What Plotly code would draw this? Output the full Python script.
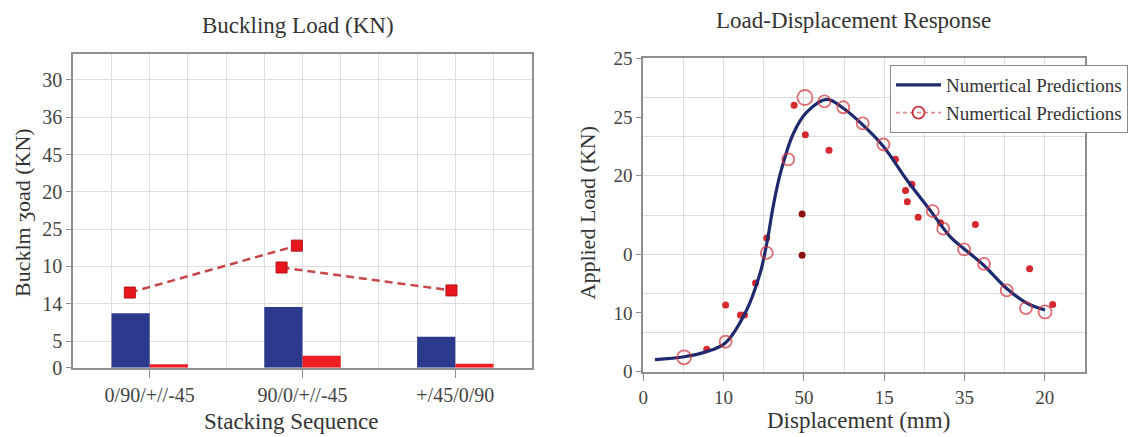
import plotly.graph_objects as go

# ---------------- Left panel: buckling load per stacking sequence ----------------
sequences = ["0/90/+//-45", "90/0/+//-45", "+/45/0/90"]
bar_blue = [10.2, 11.4, 5.8]
bar_red = [0.65, 2.25, 0.75]

# dashed trend with square markers (two separate dashed runs)
trend_x = [-0.13, 0.963, None, 0.863, 1.975]
trend_y = [14.1, 22.9, None, 18.8, 14.5]

left_tick_vals = [0, 5, 12, 19, 26, 33, 40, 47, 54]
left_tick_text = ["0", "5", "14", "10", "25", "20", "45", "36", "30"]

# ---------------- Right panel: load-displacement response ----------------
curve_x = [0.58, 2.03, 3.07, 4.07, 5.07, 5.81, 6.15, 6.48, 6.82, 7.47, 8.14, 9.14,
           9.96, 10.88, 11.96, 13.12, 14.28, 15.28, 15.94, 16.94, 18.10, 19.10, 20.01]
curve_y = [1.24, 1.53, 2.0, 2.9, 5.96, 10.0, 13.1, 17.0, 20.2, 24.3, 26.5, 27.8,
           26.9, 25.3, 23.0, 19.6, 16.5, 13.8, 12.6, 10.9, 8.5, 7.0, 6.3]

circle_x = [2.03, 4.10, 6.15, 7.22, 8.05, 9.02, 9.96, 10.93, 11.96, 14.42, 14.94,
            15.98, 16.97, 18.10, 19.06, 20.01]
circle_y = [1.47, 3.06, 12.14, 21.67, 28.0, 27.6, 27.0, 25.35, 23.2, 16.4, 14.6,
            12.5, 11.0, 8.3, 6.5, 6.1]

dot_x = [3.16, 4.10, 4.84, 5.04, 5.59, 6.15, 7.51, 8.07, 9.25, 7.91, 7.91, 12.56,
         13.38, 13.06, 13.15, 13.69, 14.80, 16.54, 19.24, 20.39]
dot_y = [2.29, 6.81, 5.79, 5.79, 9.05, 13.64, 27.2, 24.2, 22.6, 16.1, 11.9, 21.7,
         19.15, 18.5, 17.35, 15.76, 15.2, 15.04, 10.5, 6.85]

right_x_tick_vals = [0, 4, 8, 12, 16, 20]
right_x_tick_text = ["0", "10", "50", "15", "35", "20"]
right_y_tick_vals = [0, 6, 12, 20, 26, 32]
right_y_tick_text = ["0", "10", "0", "20", "25", "25"]

legend_name = "Numertical Predictions"

# ---------------- styling ----------------
FONT = "Liberation Serif"
GRID = "#dedede"
AXLINE = "#8f8f8f"
TICKFONT = dict(family=FONT, size=20, color="#444444")
NAVY = "#2c3a8e"
RED = "#ee1d23"

dot_colors = ["#d42a2f"] * len(dot_x)
dot_colors[9] = "#8e1010"
dot_colors[10] = "#8e1010"
circle_sizes = [14, 12, 12, 12, 15, 12, 12, 12, 12, 12, 12, 12, 12, 12, 12, 13]

fig = go.Figure()

# left panel traces
fig.add_trace(go.Bar(x=[0, 1, 2], y=bar_blue, width=0.25, offset=-0.25,
                     marker=dict(color=NAVY, line=dict(width=0)),
                     showlegend=False, xaxis="x", yaxis="y"))
fig.add_trace(go.Bar(x=[0, 1, 2], y=bar_red, width=0.25, offset=0,
                     marker=dict(color=RED, line=dict(width=0)),
                     showlegend=False, xaxis="x", yaxis="y"))
fig.add_trace(go.Scatter(x=trend_x, y=trend_y, mode="lines+markers", connectgaps=False,
                         line=dict(color="#c7464b", width=2.5, dash="8px,5px"),
                         marker=dict(symbol="square", size=11, color="#e8161c",
                                     line=dict(color="#b3121a", width=1)),
                         showlegend=False, xaxis="x", yaxis="y"))

# right panel traces
fig.add_trace(go.Scatter(x=dot_x, y=dot_y, mode="markers",
                         marker=dict(size=7, color=dot_colors),
                         showlegend=False, xaxis="x2", yaxis="y2"))
fig.add_trace(go.Scatter(x=curve_x, y=curve_y, mode="lines", line_shape="spline",
                         line=dict(color="#1f2a6e", width=3.2),
                         name=legend_name, showlegend=True, xaxis="x2", yaxis="y2"))
fig.add_trace(go.Scatter(x=circle_x, y=circle_y, mode="markers",
                         marker=dict(symbol="circle-open", size=circle_sizes,
                                     color="#cf3138", line=dict(width=1.8)),
                         showlegend=False, xaxis="x2", yaxis="y2"))
# legend entry for the measured circles (dashed sample with an open circle)
fig.add_trace(go.Scatter(x=[None], y=[None], mode="lines+markers",
                         line=dict(color="#e28a8e", width=1.8, dash="4px,3px"),
                         marker=dict(symbol="circle-open", size=12, color="#cf3138",
                                     line=dict(width=1.8)),
                         name=legend_name, showlegend=True, xaxis="x2", yaxis="y2"))

W, H = 1128, 437


def px_x(p):
    return p / W


def px_y(p):
    return 1 - p / H


common = dict(showline=True, linecolor=AXLINE, linewidth=2, mirror=True,
              zeroline=False, tickfont=TICKFONT, tickcolor=AXLINE, ticks="outside")

fig.update_layout(
    width=W, height=H,
    margin=dict(l=0, r=0, t=0, b=0, autoexpand=False),
    paper_bgcolor="white", plot_bgcolor="white",
    barmode="overlay",
    font=dict(family=FONT, color="#333333"),
    xaxis=dict(domain=[px_x(73.3), px_x(531.7)], range=[-0.5, 2.5],
               tickvals=[0, 1, 2], ticktext=sequences, ticklen=8,
               showgrid=True, gridcolor=GRID, gridwidth=1,
               minor=dict(tick0=0, dtick=0.25, showgrid=True, gridcolor=GRID,
                          gridwidth=1, ticks=""),
               anchor="y", **common),
    yaxis=dict(domain=[px_y(367.7), px_y(54.3)], range=[0, 58.8],
               tickvals=left_tick_vals, ticktext=left_tick_text, ticklen=5,
               showgrid=True, gridcolor=GRID, gridwidth=1,
               anchor="x", **common),
    xaxis2=dict(domain=[px_x(643.3), px_x(1085)], range=[0, 22],
                tickvals=right_x_tick_vals, ticktext=right_x_tick_text, ticklen=7,
                showgrid=True, gridcolor=GRID, gridwidth=1,
                minor=dict(tick0=0, dtick=2, showgrid=True, gridcolor=GRID,
                           gridwidth=1, ticks=""),
                anchor="y2", **{**common, "tickfont": dict(family=FONT, size=19, color="#444444")}),
    yaxis2=dict(domain=[px_y(371.7), px_y(58.3)], range=[0, 32],
                tickmode="linear", tick0=0, dtick=4, showticklabels=False,
                showgrid=True, gridcolor=GRID, gridwidth=1,
                anchor="x2", **{**common, "ticks": ""}),
    yaxis3=dict(overlaying="y2", anchor="x2", range=[0, 32],
                tickvals=right_y_tick_vals, ticktext=right_y_tick_text, ticklen=6,
                showgrid=False, showline=False, zeroline=False, ticks="outside",
                tickcolor=AXLINE, tickfont=dict(family=FONT, size=19, color="#444444")),
    legend=dict(x=px_x(890), y=px_y(65), xanchor="left", yanchor="top",
                bgcolor="white", bordercolor="#8a8a8a", borderwidth=1,
                font=dict(family=FONT, size=19, color="#333333"),
                itemwidth=45, tracegroupgap=0),
)

# dummy so yaxis3 gets drawn with the shared range
fig.add_trace(go.Scatter(x=[None], y=[None], xaxis="x2", yaxis="y3", showlegend=False))

title_font = dict(family=FONT, size=23, color="#333333")
fig.add_annotation(text="Buckling Load (KN)", x=px_x(298), y=px_y(25), xref="paper", yref="paper",
                   showarrow=False, font=title_font, xanchor="center", yanchor="middle")
fig.add_annotation(text="Load-Displacement Response", x=px_x(853), y=px_y(21), xref="paper",
                   yref="paper", showarrow=False, font=title_font, xanchor="center",
                   yanchor="middle")
fig.add_annotation(text="Stacking Sequence", x=px_x(291), y=px_y(421), xref="paper", yref="paper",
                   showarrow=False, font=title_font, xanchor="center", yanchor="middle")
fig.add_annotation(text="Displacement (mm)", x=px_x(858.8), y=px_y(420), xref="paper",
                   yref="paper", showarrow=False, font=title_font, xanchor="center",
                   yanchor="middle")
fig.add_annotation(text="Bucklm ʒoad (KN)", x=px_x(22), y=px_y(213), xref="paper", yref="paper",
                   showarrow=False, font=dict(family=FONT, size=22, color="#333333"),
                   textangle=-90, xanchor="center", yanchor="middle")
fig.add_annotation(text="Applied Load (KN)", x=px_x(587), y=px_y(212.5), xref="paper",
                   yref="paper", showarrow=False, font=dict(family=FONT, size=22, color="#333333"),
                   textangle=-90, xanchor="center", yanchor="middle")

fig.write_html("out.html")
